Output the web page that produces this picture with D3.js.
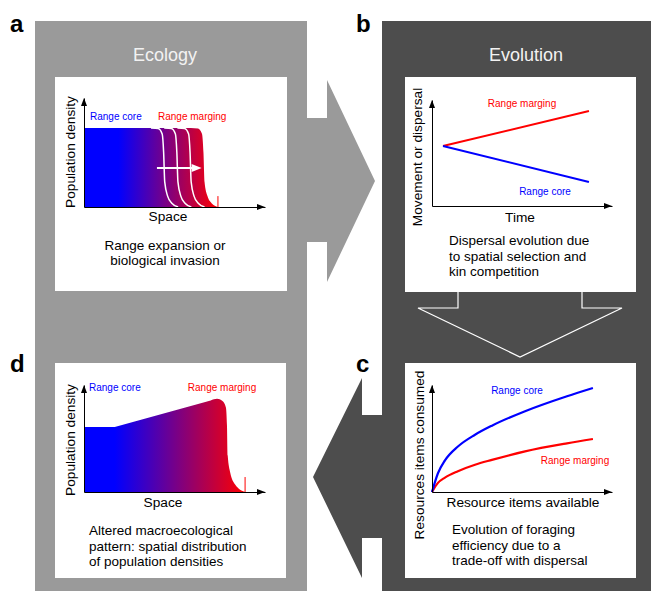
<!DOCTYPE html>
<html>
<head>
<meta charset="utf-8">
<script src="https://cdn.jsdelivr.net/npm/d3@7"></script>
<style>
  body { margin: 0; background: #fff; }
  svg { display: block; font-family: "Liberation Sans", Arial, sans-serif; }
</style>
</head>
<body>
<div id="fig"></div>
<script>
// ---- values (each chart uses a 0..10 box on both axes) ----
var panelLetters = ["a", "b", "c", "d"];
var panelTitles = ["Ecology", "Evolution"];
var groupLabels = ["Range core", "Range marging"];

var captionA = ["Range expansion or", "biological invasion"];
var captionB = ["Dispersal evolution due", "to spatial selection and", "kin competition"];
var captionC = ["Evolution of foraging", "efficiency due to a", "trade-off with dispersal"];
var captionD = ["Altered macroecological", "pattern: spatial distribution", "of population densities"];

// a: density profile during an invasion
var invasionCore = [[0, 7.25], [5.9, 7.25]];
var invasionFront = [[5.9, 7.25], [6.3, 7.2], [6.52, 6.7], [6.6, 5.0], [6.66, 2.3], [6.82, 1.0], [7.05, 0.35], [7.4, 0]];
var pastFrontShifts = [-2.2, -1.47, -0.74];
var frontArrow = [4.03, 6.5];
var frontArrowLevel = 3.58;
var edgeTickA = [7.4, 1.0];

// b: dispersal over time
var timePoints = [0.61, 8.72];
var dispersalMargin = [5.66, 8.96];
var dispersalCore = [5.66, 2.26];

// c: functional responses
var resourcesAvailable = [0, 0.33, 0.72, 1.44, 2.39, 3.33, 5.17, 7.5, 8.94];
var consumedCore = [0, 1.75, 2.95, 4.25, 5.35, 6.2, 7.55, 8.95, 9.72];
var consumedMargin = [0, 0.85, 1.35, 1.95, 2.55, 3.0, 3.8, 4.55, 4.95];

// d: altered density profile
var macroCore = [[0, 6.07], [1.7, 6.07], [7.0, 8.56]];
var macroFront = [[7.0, 8.56], [7.35, 8.72], [7.65, 8.5], [7.84, 7.9], [7.9, 6.2], [7.94, 3.4], [8.08, 1.8], [8.35, 0.7], [8.9, 0]];
var edgeTickD = [8.9, 1.4];

var BLUE = "#0000ff", RED = "#ff0000";
var GREY = "#9a9a9a", DARK = "#4d4d4d";

var svg = d3.select("#fig").append("svg")
  .attr("width", 651)
  .attr("height", 591);

var defs = svg.append("defs");
function gradient(id, x1, x2) {
  var g = defs.append("linearGradient")
    .attr("id", id)
    .attr("gradientUnits", "userSpaceOnUse")
    .attr("x1", x1).attr("x2", x2).attr("y1", 0).attr("y2", 0);
  g.append("stop").attr("offset", 0).attr("stop-color", BLUE);
  g.append("stop").attr("offset", 1).attr("stop-color", RED);
}

// ---- frames and connecting arrows ----
svg.append("rect").attr("x", 35).attr("y", 21).attr("width", 272).attr("height", 570).attr("fill", GREY);
svg.append("rect").attr("x", 382).attr("y", 21).attr("width", 269).attr("height", 570).attr("fill", DARK);

svg.append("path")
  .attr("d", "M307,118H327V80L375,181L327,282V242H307Z")
  .attr("fill", GREY);
svg.append("path")
  .attr("d", "M383,415H362V378L313,477L362,578V538H383Z")
  .attr("fill", DARK);

[[55, 77, 232, 214], [405, 77, 231, 215], [405, 363, 231, 215], [55, 363, 231, 215]].forEach(function(p) {
  svg.append("rect").attr("x", p[0]).attr("y", p[1]).attr("width", p[2]).attr("height", p[3]).attr("fill", "#fff");
});

svg.append("path")
  .attr("d", "M458,292V308H418L520,357L622,308H582V292")
  .attr("fill", DARK)
  .attr("stroke", "#fff")
  .attr("stroke-width", 1.2);

var letterPos = [[10, 32], [356, 32], [356, 372], [10, 372]];
svg.selectAll(".letter").data(panelLetters).enter().append("text")
  .attr("class", "letter")
  .attr("x", function(d, i) { return letterPos[i][0]; })
  .attr("y", function(d, i) { return letterPos[i][1]; })
  .attr("font-size", 24)
  .attr("font-weight", "bold")
  .text(function(d) { return d; });

svg.selectAll(".title").data(panelTitles).enter().append("text")
  .attr("class", "title")
  .attr("x", function(d, i) { return i ? 526 : 165; })
  .attr("y", 61)
  .attr("text-anchor", "middle")
  .attr("font-size", 18)
  .attr("fill", "#f2f2f2")
  .text(function(d) { return d; });

// ---- helpers ----
function chart(x0, x1, y0, y1) {
  return {
    x: d3.scaleLinear().domain([0, 10]).range([x0, x1]),
    y: d3.scaleLinear().domain([0, 10]).range([y0, y1])
  };
}

function axes(c) {
  svg.append("g")
    .attr("transform", "translate(0," + c.y(0) + ")")
    .call(d3.axisBottom(c.x).tickValues([]).tickSizeOuter(0));
  svg.append("g")
    .attr("transform", "translate(" + c.x(0) + ",0)")
    .call(d3.axisLeft(c.y).tickValues([]).tickSizeOuter(0));
  var xt = c.x(10), yt = c.y(10), ox = c.x(0), oy = c.y(0);
  svg.append("path")
    .attr("d", "M" + xt + "," + oy + "l-8,-3v6z")
    .attr("fill", "#000");
  svg.append("path")
    .attr("d", "M" + ox + "," + yt + "l-3,8h6z")
    .attr("fill", "#000");
}

function axisTitles(xTitle, xx, xy, yTitle, yx, yy) {
  svg.append("text")
    .attr("x", xx).attr("y", xy)
    .attr("text-anchor", "middle")
    .attr("font-size", 13.7)
    .text(xTitle);
  svg.append("text")
    .attr("transform", "translate(" + yx + "," + yy + ") rotate(-90)")
    .attr("text-anchor", "middle")
    .attr("font-size", 13.7)
    .text(yTitle);
}

function caption(lines, x, y, anchor) {
  svg.append("g").selectAll("text").data(lines).enter().append("text")
    .attr("x", x)
    .attr("y", function(d, i) { return y + i * 15.7; })
    .attr("text-anchor", anchor)
    .attr("font-size", 13.5)
    .text(function(d) { return d; });
}

function label(txt, x, y, color, anchor) {
  svg.append("text")
    .attr("x", x).attr("y", y)
    .attr("text-anchor", anchor)
    .attr("font-size", 10)
    .attr("fill", color)
    .text(txt);
}

function profilePath(c, core, front) {
  var lin = d3.line().x(function(d) { return c.x(d[0]); }).y(function(d) { return c.y(d[1]); });
  var smooth = d3.line().x(function(d) { return c.x(d[0]); }).y(function(d) { return c.y(d[1]); })
    .curve(d3.curveMonotoneX);
  return "M" + c.x(core[0][0]) + "," + c.y(0) +
    lin(core).replace(/^M/, "L") +
    smooth(front).replace(/^M/, "L") + "Z";
}

// ---- a: range expansion ----
var ca = chart(84, 265, 207, 98);
gradient("gradA", ca.x(1.9), ca.x(7.4));
svg.append("path")
  .attr("d", profilePath(ca, invasionCore, invasionFront))
  .attr("fill", "url(#gradA)");

var frontLine = d3.line()
  .x(function(d) { return ca.x(d[0]); })
  .y(function(d) { return ca.y(d[1]); })
  .curve(d3.curveMonotoneX);
svg.selectAll(".past").data(pastFrontShifts).enter().append("path")
  .attr("class", "past")
  .attr("d", function(s) { return frontLine(invasionFront.map(function(p) { return [p[0] + s, p[1]]; })); })
  .attr("fill", "none")
  .attr("stroke", "#fff")
  .attr("stroke-width", 1.5);

svg.append("line")
  .attr("x1", ca.x(frontArrow[0])).attr("x2", ca.x(frontArrow[1]) - 8)
  .attr("y1", ca.y(frontArrowLevel)).attr("y2", ca.y(frontArrowLevel))
  .attr("stroke", "#fff").attr("stroke-width", 2.2);
svg.append("path")
  .attr("d", "M" + ca.x(frontArrow[1]) + "," + ca.y(frontArrowLevel) + "l-10,-4v8z")
  .attr("fill", "#fff");

svg.append("line")
  .attr("x1", ca.x(edgeTickA[0])).attr("x2", ca.x(edgeTickA[0]))
  .attr("y1", ca.y(0)).attr("y2", ca.y(edgeTickA[1]))
  .attr("stroke", RED).attr("stroke-width", 1);

axes(ca);
axisTitles("Space", 168, 221, "Population density", 75, 152);
label(groupLabels[0], 90, 120, BLUE, "start");
label(groupLabels[1], 158, 120, RED, "start");
caption(captionA, 165, 249.5, "middle");

// ---- b: dispersal evolution ----
var cb = chart(432, 612, 206, 100);
var timeLine = d3.line()
  .x(function(d, i) { return cb.x(timePoints[i]); })
  .y(function(d) { return cb.y(d); });
svg.append("path").attr("d", timeLine(dispersalMargin))
  .attr("fill", "none").attr("stroke", RED).attr("stroke-width", 2);
svg.append("path").attr("d", timeLine(dispersalCore))
  .attr("fill", "none").attr("stroke", BLUE).attr("stroke-width", 2);
axes(cb);
axisTitles("Time", 520, 221.5, "Movement or dispersal", 422, 157);
label(groupLabels[1], 522, 107, RED, "middle");
label(groupLabels[0], 545, 195, BLUE, "middle");
caption(captionB, 449, 245, "start");

// ---- c: foraging efficiency ----
var cc = chart(432, 612, 492, 385);
var respLine = d3.line()
  .x(function(d, i) { return cc.x(resourcesAvailable[i]); })
  .y(function(d) { return cc.y(d); })
  .curve(d3.curveMonotoneX);
svg.append("path").attr("d", respLine(consumedMargin))
  .attr("fill", "none").attr("stroke", RED).attr("stroke-width", 2.2);
svg.append("path").attr("d", respLine(consumedCore))
  .attr("fill", "none").attr("stroke", BLUE).attr("stroke-width", 2.2);
axes(cc);
axisTitles("Resource items available", 523, 507, "Resources items consumed", 424, 455);
label(groupLabels[0], 517, 394, BLUE, "middle");
label(groupLabels[1], 575, 464, RED, "middle");
caption(captionC, 452, 534, "start");

// ---- d: altered macroecological pattern ----
var cd = chart(84, 265, 492, 385);
gradient("gradD", cd.x(1.7), cd.x(8.9));
svg.append("path")
  .attr("d", profilePath(cd, macroCore, macroFront))
  .attr("fill", "url(#gradD)");
svg.append("line")
  .attr("x1", cd.x(edgeTickD[0])).attr("x2", cd.x(edgeTickD[0]))
  .attr("y1", cd.y(0)).attr("y2", cd.y(edgeTickD[1]))
  .attr("stroke", RED).attr("stroke-width", 1);
axes(cd);
axisTitles("Space", 163, 507, "Population density", 75, 440);
label(groupLabels[0], 89, 390.5, BLUE, "start");
label(groupLabels[1], 222, 390.5, RED, "middle");
caption(captionD, 89, 535, "start");
</script>
</body>
</html>
